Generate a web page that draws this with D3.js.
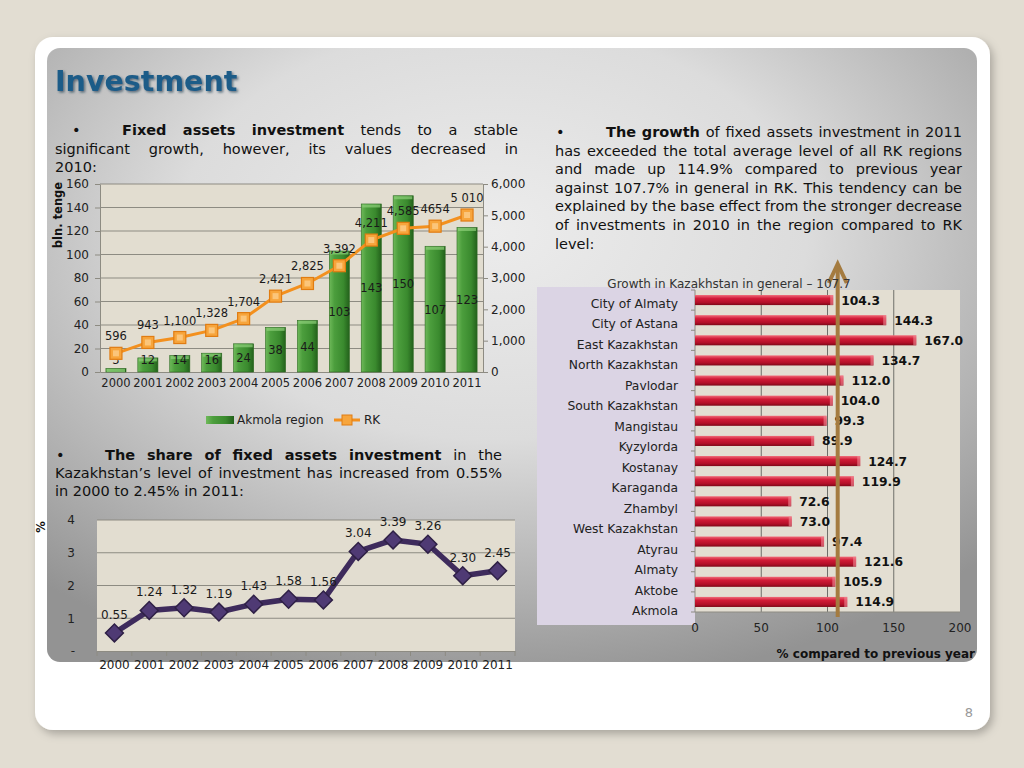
<!DOCTYPE html>
<html><head><meta charset="utf-8">
<script src="https://cdnjs.cloudflare.com/ajax/libs/d3/7.8.5/d3.min.js"></script>
<style>
html,body{margin:0;padding:0;background:#e2ddd2;}
svg{display:block;font-family:"DejaVu Sans",Verdana,sans-serif;}
</style></head>
<body>
<svg id="c" width="1024" height="768"></svg>
<script>
// ---------- DATA ----------
const years = ['2000','2001','2002','2003','2004','2005','2006','2007','2008','2009','2010','2011'];
const akmola = [3,12,14,16,24,38,44,103,143,150,107,123];
const rk = [596,943,1100,1328,1704,2421,2825,3392,4211,4585,4654,5010];
const rkLabels = ['596','943','1,100','1,328','1,704','2,421','2,825','3,392','4,211','4,585','4654','5 010'];
const leftTicks = [0,20,40,60,80,100,120,140,160];
const rightTicks = [0,1000,2000,3000,4000,5000,6000];
const share = [0.55,1.24,1.32,1.19,1.43,1.58,1.56,3.04,3.39,3.26,2.30,2.45];
const shareLabels = ['0.55','1.24','1.32','1.19','1.43','1.58','1.56','3.04','3.39','3.26','2.30','2.45'];
const shareTicks = [0,1,2,3,4];
const regions = ['City of Almaty','City of Astana','East Kazakhstan','North Kazakhstan','Pavlodar','South Kazakhstan','Mangistau','Kyzylorda','Kostanay','Karaganda','Zhambyl','West Kazakhstan','Atyrau','Almaty','Aktobe','Akmola'];
const growth = [104.3,144.3,167.0,134.7,112.0,104.0,99.3,89.9,124.7,119.9,72.6,73.0,97.4,121.6,105.9,114.9];
const growthTicks = [0,50,100,150,200];
const rkGrowth = 107.7;

const svg = d3.select('#c');
const defs = svg.append('defs');

// ---------- BACKGROUND ----------
const sh = defs.append('filter').attr('id','sh').attr('x','-5%').attr('y','-5%').attr('width','115%').attr('height','115%');
sh.append('feDropShadow').attr('dx',3).attr('dy',4).attr('stdDeviation',4).attr('flood-color','#000').attr('flood-opacity',0.25);
const rg = defs.append('radialGradient').attr('id','pg').attr('cx','48%').attr('cy','30%').attr('r','75%');
rg.append('stop').attr('offset','0').attr('stop-color','#ececec');
rg.append('stop').attr('offset','0.45').attr('stop-color','#dcdcdc');
rg.append('stop').attr('offset','0.8').attr('stop-color','#aeaeae');
rg.append('stop').attr('offset','1').attr('stop-color','#939393');

svg.append('rect').attr('x',35).attr('y',37).attr('width',955).attr('height',693).attr('rx',18).attr('fill','#fff').attr('filter','url(#sh)');
svg.append('rect').attr('x',47).attr('y',48).attr('width',930).attr('height',614).attr('rx',13).attr('fill','url(#pg)');

// title
const ts = defs.append('filter').attr('id','ts');
ts.append('feDropShadow').attr('dx',1.5).attr('dy',1.5).attr('stdDeviation',0.8).attr('flood-color','#0b2a44').attr('flood-opacity',0.6);
svg.append('text').attr('x',55).attr('y',91).attr('font-size',28.5).attr('font-weight','bold')
  .attr('fill','#1f5c88').attr('filter','url(#ts)').text('Investment');

svg.append('text').attr('x',973).attr('y',717).attr('font-size',13).attr('fill','#999').attr('text-anchor','end').text('8');

// ---------- JUSTIFIED TEXT ----------
const FS = 14.5;
function para(lines, x0, x1, y0, lh, bulletX, firstX){
  lines.forEach((ln,i)=>{
    const y = y0 + i*lh;
    const start = (i===0) ? firstX : x0;
    if(i===0){
      svg.append('text').attr('x',bulletX).attr('y',y).attr('font-size',FS).attr('fill','#111').text('•');
    }
    const words = ln.t.split(' ').map(w=>({b:w.startsWith('*'), t:w.replace(/^\*/,'')}));
    const nodes = words.map(w=>svg.append('text').attr('y',y).attr('font-size',FS).attr('fill','#111')
       .attr('font-weight',w.b?'bold':'normal').text(w.t));
    const widths = nodes.map(n=>n.node().getComputedTextLength());
    const total = d3.sum(widths);
    let gap = FS*0.318;
    if(ln.j && words.length>1) gap = Math.max(2,(x1-start-total)/(words.length-1));
    let x = start;
    nodes.forEach((n,k)=>{ n.attr('x',x); x += widths[k]+gap; });
  });
}
para([
  {t:'*Fixed *assets *investment tends to a stable', j:true},
  {t:'significant growth, however, its values decreased in', j:true},
  {t:'2010:', j:false}
], 55, 518, 135, 18.5, 72, 122);
para([
  {t:'*The *growth of fixed assets investment in 2011', j:true},
  {t:'has exceeded the total average level of all RK regions', j:true},
  {t:'and made up 114.9% compared to previous year', j:true},
  {t:'against 107.7% in general in RK. This tendency can be', j:true},
  {t:'explained by the base effect from the stronger decrease', j:true},
  {t:'of investments in 2010 in the region compared to RK', j:true},
  {t:'level:', j:false}
], 555, 962, 137, 18.6, 556, 606);
para([
  {t:'*The *share *of *fixed *assets *investment in the', j:true},
  {t:'Kazakhstan\u2019s level of investment has increased from 0.55%', j:true},
  {t:'in 2000 to 2.45% in 2011:', j:false}
], 55, 502, 460, 18, 56, 105);

// ---------- CHART 1 ----------
const c1 = svg.append('g');
const x1 = d3.scaleBand().domain(years).range([100,483]).paddingInner(0.37).paddingOuter(0.185);
const y1 = d3.scaleLinear().domain([0,160]).range([372,184]);
const y1r = d3.scaleLinear().domain([0,6000]).range([372,184]);
c1.append('rect').attr('x',100).attr('y',184).attr('width',383).attr('height',188).attr('fill','#e2ddd0');
c1.selectAll('.g1').data(leftTicks.slice(1)).join('line').attr('x1',100).attr('x2',483)
  .attr('y1',d=>y1(d)).attr('y2',d=>y1(d)).attr('stroke','#8d8b82').attr('stroke-width',1);
const ax1 = c1.append('g').attr('transform','translate(100,0)')
  .call(d3.axisLeft(y1).tickValues(leftTicks).tickSize(5).tickSizeOuter(0));
ax1.select('.domain').attr('stroke','#8d8b82');
ax1.selectAll('line').attr('stroke','#8d8b82');
ax1.selectAll('text').attr('font-size',12).attr('fill','#222').attr('x',-11).attr('font-family','DejaVu Sans');
const ax1r = c1.append('g').attr('transform','translate(483,0)')
  .call(d3.axisRight(y1r).tickValues(rightTicks).tickFormat(d3.format(',')).tickSize(5).tickSizeOuter(0));
ax1r.select('.domain').attr('stroke','#8d8b82');
ax1r.selectAll('line').attr('stroke','#8d8b82');
ax1r.selectAll('text').attr('font-size',12).attr('fill','#222').attr('x',8).attr('font-family','DejaVu Sans');
const ax1b = c1.append('g').attr('transform','translate(0,372)')
  .call(d3.axisBottom(x1).tickSize(0).tickSizeOuter(0));
ax1b.select('.domain').attr('stroke','#8d8b82');
ax1b.selectAll('text').attr('font-size',11.5).attr('fill','#222').attr('dy','1.05em').attr('font-family','DejaVu Sans');

const gg = defs.append('linearGradient').attr('id','gb').attr('x1',0).attr('x2',1).attr('y1',0).attr('y2',0);
gg.append('stop').attr('offset',0).attr('stop-color','#6fb95a');
gg.append('stop').attr('offset',0.25).attr('stop-color','#4c9e3d');
gg.append('stop').attr('offset',0.7).attr('stop-color','#3a8a2e');
gg.append('stop').attr('offset',1).attr('stop-color','#23611b');
c1.selectAll('.bar').data(akmola).join('rect')
  .attr('x',(d,i)=>x1(years[i])).attr('width',x1.bandwidth())
  .attr('y',d=>y1(d)).attr('height',d=>y1(0)-y1(d))
  .attr('fill','url(#gb)').attr('stroke','#2d6a22').attr('stroke-width',0.6);
c1.selectAll('.cap').data(akmola).join('rect')
  .attr('x',(d,i)=>x1(years[i])+1).attr('width',x1.bandwidth()-2)
  .attr('y',d=>y1(d)+0.5).attr('height',3).attr('fill','#8fd07a').attr('opacity',0.7);
c1.selectAll('.bl').data(akmola).join('text')
  .attr('x',(d,i)=>x1(years[i])+x1.bandwidth()/2)
  .attr('y',d=>Math.min((y1(d)+y1(0))/2, y1(0)-13)+4.5)
  .attr('text-anchor','middle').attr('font-size',11.5).attr('fill','#1a1a1a').text(d=>d);

const line1 = d3.line().x((d,i)=>x1(years[i])+x1.bandwidth()/2).y(d=>y1r(d));
c1.append('path').datum(rk).attr('d',line1).attr('fill','none').attr('stroke','#f3901e').attr('stroke-width',3);
c1.selectAll('.m1').data(rk).join('rect')
  .attr('x',(d,i)=>x1(years[i])+x1.bandwidth()/2-6).attr('y',d=>y1r(d)-6)
  .attr('width',12).attr('height',12).attr('fill','#f7a53c').attr('stroke','#e07c12').attr('stroke-width',1.2);
c1.selectAll('.m1i').data(rk).join('rect')
  .attr('x',(d,i)=>x1(years[i])+x1.bandwidth()/2-3).attr('y',d=>y1r(d)-3)
  .attr('width',6).attr('height',6).attr('fill','#fbc57a');
c1.selectAll('.l1').data(rk).join('text')
  .attr('x',(d,i)=>x1(years[i])+x1.bandwidth()/2).attr('y',d=>y1r(d)-13)
  .attr('text-anchor','middle').attr('font-size',11.5).attr('fill','#1a1a1a').text((d,i)=>rkLabels[i]);
svg.append('text').attr('transform','translate(62,215) rotate(-90)').attr('text-anchor','middle')
  .attr('font-size',11.5).attr('font-weight','bold').attr('fill','#111').text('bln. tenge');
// legend
const lg = c1.append('g');
lg.append('rect').attr('x',206).attr('y',416).attr('width',28).attr('height',8).attr('fill','url(#gb)');
lg.append('text').attr('x',237).attr('y',424).attr('font-size',12).attr('fill','#222').text('Akmola region');
lg.append('line').attr('x1',334).attr('x2',360).attr('y1',420).attr('y2',420).attr('stroke','#f3901e').attr('stroke-width',3);
lg.append('rect').attr('x',342).attr('y',415).attr('width',10).attr('height',10).attr('fill','#f7a53c').attr('stroke','#e07c12');
lg.append('text').attr('x',364).attr('y',424).attr('font-size',12).attr('fill','#222').text('RK');

// ---------- CHART 2 ----------
const c2 = svg.append('g');
const x2 = d3.scaleBand().domain(years).range([97,515]);
const y2 = d3.scaleLinear().domain([0,4]).range([651,520]);
c2.append('rect').attr('x',97).attr('y',520).attr('width',418).attr('height',131).attr('fill','#e2ddd0');
c2.selectAll('.g2').data(shareTicks.slice(1)).join('line').attr('x1',97).attr('x2',515)
  .attr('y1',d=>y2(d)).attr('y2',d=>y2(d)).attr('stroke','#8d8b82');
const ax2 = c2.append('g').attr('transform','translate(97,0)')
  .call(d3.axisLeft(y2).tickValues(shareTicks).tickFormat(d=>d===0?'-':d).tickSize(0).tickSizeOuter(0));
ax2.select('.domain').remove();
ax2.selectAll('text').attr('font-size',12).attr('fill','#222').attr('x',-22).attr('font-family','DejaVu Sans');
const ax2b = c2.append('g').attr('transform','translate(0,651)')
  .call(d3.axisBottom(x2).tickSize(0).tickSizeOuter(0));
ax2b.select('.domain').attr('stroke','#8d8b82');
ax2b.selectAll('text').attr('font-size',12).attr('fill','#222').attr('dy','1.25em').attr('font-family','DejaVu Sans');
c2.selectAll('.tk2').data(d3.range(13)).join('line')
  .attr('x1',i=>97+i*x2.step()).attr('x2',i=>97+i*x2.step()).attr('y1',651).attr('y2',656).attr('stroke','#8d8b82');
const line2 = d3.line().x((d,i)=>x2(years[i])+x2.bandwidth()/2).y(d=>y2(d));
c2.append('path').datum(share).attr('d',line2).attr('fill','none').attr('stroke','#3e2b5c').attr('stroke-width',5.5).attr('stroke-linejoin','round');
c2.selectAll('.m2').data(share).join('path')
  .attr('d',d3.symbol().type(d3.symbolSquare).size(160))
  .attr('transform',(d,i)=>`translate(${x2(years[i])+x2.bandwidth()/2},${y2(d)}) rotate(45)`)
  .attr('fill','#4f3a74').attr('stroke','#2f2046').attr('stroke-width',1.5);
c2.selectAll('.l2').data(share).join('text')
  .attr('x',(d,i)=>x2(years[i])+x2.bandwidth()/2).attr('y',d=>y2(d)-14)
  .attr('text-anchor','middle').attr('font-size',12).attr('fill','#1a1a1a').text((d,i)=>shareLabels[i]);
svg.append('text').attr('transform','translate(45,527) rotate(-90)').attr('text-anchor','middle')
  .attr('font-size',11.5).attr('font-weight','bold').attr('fill','#111').text('%');

// ---------- CHART 3 ----------
const c3 = svg.append('g');
const x3 = d3.scaleLinear().domain([0,200]).range([695,960]);
const y3 = d3.scaleBand().domain(regions).range([290,612]).paddingInner(0.5).paddingOuter(0.25);
const y3l = d3.scaleBand().domain(regions).range([293,621]);
c3.append('rect').attr('x',537).attr('y',287).attr('width',158).attr('height',338).attr('fill','#dbd4e4');
c3.append('rect').attr('x',695).attr('y',290).attr('width',265).attr('height',322).attr('fill','#e3ded2');
c3.selectAll('.g3').data(growthTicks.slice(1,4)).join('line')
  .attr('x1',d=>x3(d)).attr('x2',d=>x3(d)).attr('y1',290).attr('y2',612).attr('stroke','#6f6f6a').attr('stroke-width',1);
c3.append('line').attr('x1',695).attr('x2',695).attr('y1',290).attr('y2',612).attr('stroke','#8d8b82');
c3.append('line').attr('x1',695).attr('x2',960).attr('y1',612).attr('y2',612).attr('stroke','#8d8b82');
c3.selectAll('.tk3').data(d3.range(17)).join('line')
  .attr('x1',691).attr('x2',695).attr('y1',i=>290+i*y3.step()).attr('y2',i=>290+i*y3.step()).attr('stroke','#8d8b82');
c3.selectAll('.xt3').data(growthTicks).join('text')
  .attr('x',d=>x3(d)).attr('y',632).attr('text-anchor','middle').attr('font-size',12).attr('fill','#222').text(d=>d);
c3.selectAll('.cl3').data(regions).join('text')
  .attr('x',678).attr('y',d=>y3l(d)+y3l.bandwidth()/2+4.5).attr('text-anchor','end')
  .attr('font-size',12.3).attr('fill','#222').text(d=>d);
const rgr = defs.append('linearGradient').attr('id','rb').attr('x1',0).attr('x2',0).attr('y1',0).attr('y2',1);
rgr.append('stop').attr('offset',0).attr('stop-color','#f06a78');
rgr.append('stop').attr('offset',0.35).attr('stop-color','#d11a36');
rgr.append('stop').attr('offset',0.75).attr('stop-color','#b20f28');
rgr.append('stop').attr('offset',1).attr('stop-color','#7d0818');
c3.selectAll('.b3').data(growth).join('rect')
  .attr('x',695).attr('y',(d,i)=>y3(regions[i])).attr('height',y3.bandwidth())
  .attr('width',d=>x3(d)-x3(0)).attr('fill','url(#rb)');
c3.selectAll('.b3e').data(growth).join('rect')
  .attr('x',d=>x3(d)-3).attr('y',(d,i)=>y3(regions[i])).attr('height',y3.bandwidth())
  .attr('width',3).attr('fill','#f28b96').attr('opacity',0.6);
c3.selectAll('.v3').data(growth).join('text')
  .attr('x',d=>x3(d)+8).attr('y',(d,i)=>y3(regions[i])+y3.bandwidth()/2+4.5)
  .attr('font-size',12.3).attr('font-weight','bold').attr('fill','#111').text(d=>d.toFixed(1));
// arrow at RK growth
const ax = x3(rkGrowth);
c3.append('line').attr('x1',ax).attr('x2',ax).attr('y1',617).attr('y2',266).attr('stroke','#a47b40').attr('stroke-width',4);
c3.append('path').attr('d',`M${ax-9},283 L${ax},264 L${ax+9},283`).attr('fill','none').attr('stroke','#a47b40').attr('stroke-width',4).attr('stroke-linejoin','miter');
c3.append('text').attr('x',729).attr('y',288).attr('text-anchor','middle').attr('font-size',12).attr('fill','#333')
  .text('Growth in Kazakhstan in general \u2013 ' + rkGrowth);
c3.append('text').attr('x',975).attr('y',658).attr('text-anchor','end').attr('font-size',12).attr('font-weight','bold').attr('fill','#111')
  .text('% compared to previous year');
</script>
</body></html>
